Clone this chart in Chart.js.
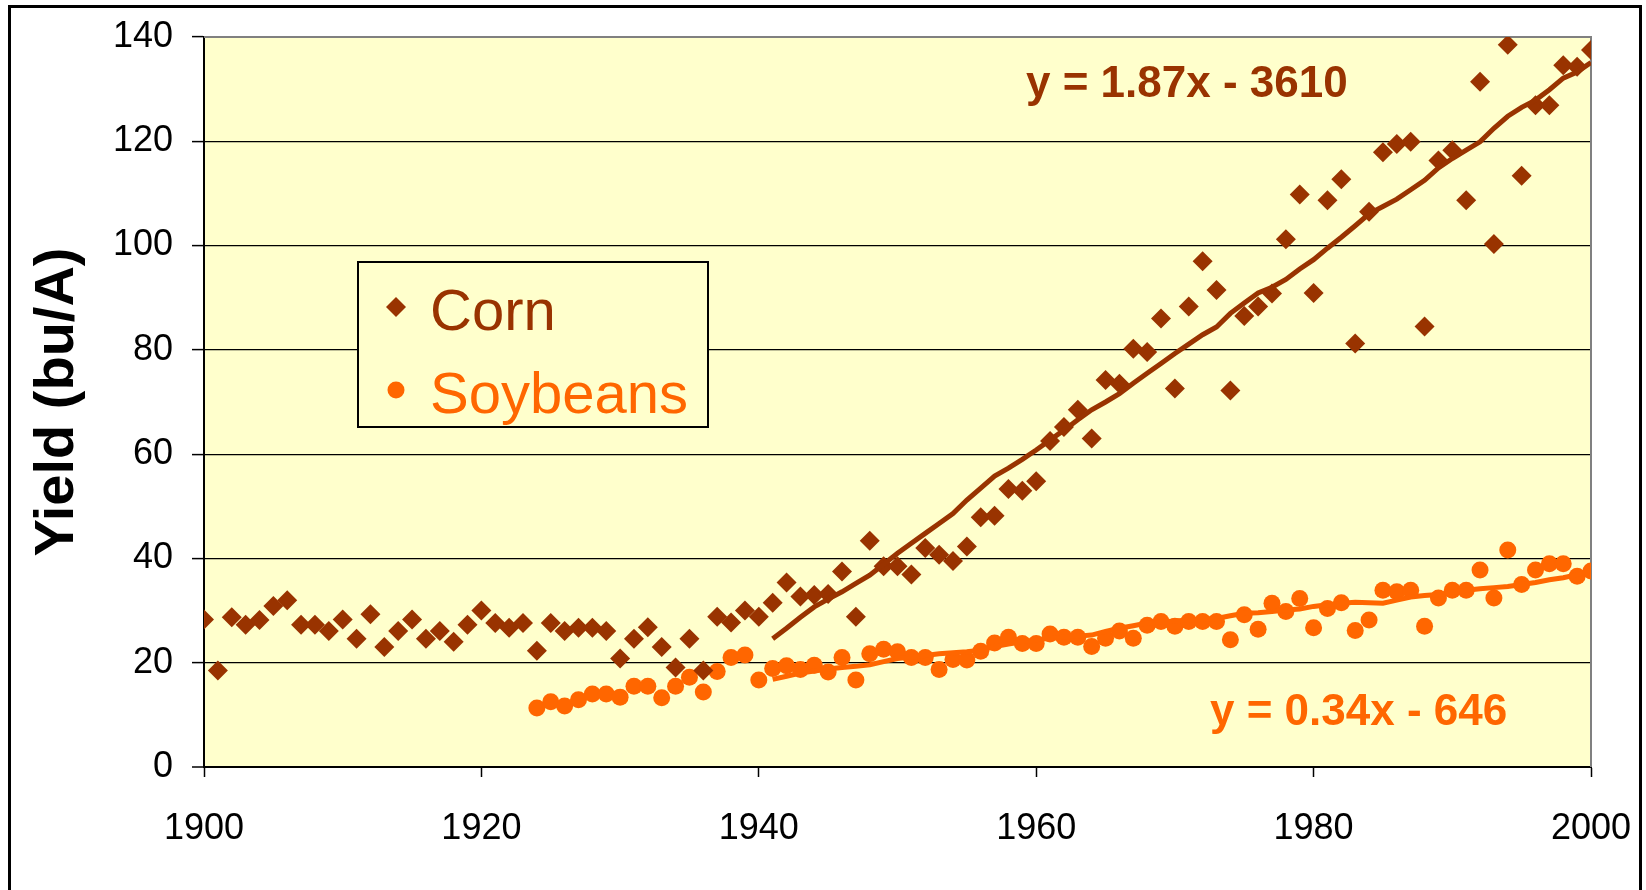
<!DOCTYPE html>
<html><head><meta charset="utf-8">
<script src="https://cdn.jsdelivr.net/npm/chart.js@4"></script>
<style>html,body{margin:0;padding:0;background:#fff;} canvas{display:block;}</style>
</head><body>
<canvas id="c" width="1646" height="890"></canvas>
<script>
const FONT = '"Liberation Sans", Arial, sans-serif';
const seriesNames = ['Corn', 'Soybeans'];
const equations = ['y = 1.87x - 3610', 'y = 0.34x - 646'];
const xTicks = [1900, 1920, 1940, 1960, 1980, 2000];
const yTicks = [0, 20, 40, 60, 80, 100, 120, 140];

const cornStartYear = 1900;
const cornYield = [
  28.3, 18.5, 28.7, 27.3, 28.2, 30.9, 32.0, 27.3, 27.3, 26.1,
  28.3, 24.6, 29.3, 23.0, 26.1, 28.3, 24.6, 26.1, 24.0, 27.3,
  30.0, 27.6, 26.7, 27.6, 22.3, 27.6, 26.1, 26.7, 26.7, 26.1,
  20.8, 24.6, 26.8, 23.0, 19.1, 24.6, 18.5, 28.8, 27.7, 30.0,
  28.8, 31.5, 35.4, 32.7, 33.0, 33.2, 37.5, 28.8, 43.4, 38.5,
  38.5, 36.9, 42.0, 40.7, 39.5, 42.3, 47.9, 48.2, 53.3, 53.0,
  54.8, 62.5, 65.2, 68.5, 63.0, 74.2, 73.5, 80.2, 79.6, 86.0,
  72.6, 88.3, 97.0, 91.5, 72.2, 86.5, 88.3, 90.8, 101.2, 109.8,
  90.9, 108.7, 112.7, 81.2, 106.5, 117.9, 119.5, 119.9, 84.5, 116.3,
  118.3, 108.7, 131.4, 100.3, 138.5, 113.4, 126.9, 126.9, 134.6, 134.3,
  137.5
];

const soyStartYear = 1924;
const soyYield = [
  11.3, 12.5, 11.7, 12.9, 14.0, 14.0,
  13.4, 15.5, 15.5, 13.3, 15.5, 17.2, 14.4, 18.3, 21.0, 21.5,
  16.7, 18.9, 19.4, 18.7, 19.5, 18.2, 21.0, 16.7, 21.7, 22.6,
  22.1, 21.0, 21.0, 18.7, 20.6, 20.5, 22.2, 23.8, 24.9, 23.7,
  23.7, 25.5, 24.9, 24.9, 23.1, 24.7, 26.1, 24.7, 27.2, 27.9,
  27.0, 27.9, 27.9, 27.9, 24.4, 29.2, 26.4, 31.4, 29.8, 32.3,
  26.7, 30.4, 31.5, 26.2, 28.2, 33.9, 33.6, 33.9, 27.0, 32.4,
  33.9, 33.9, 37.8, 32.4, 41.6, 35.0, 37.8, 39.0, 39.0, 36.6,
  37.6
];

const trendStartYear = 1941;
const cornTrend = [
  24.6, 26.6, 28.7, 30.7, 32.2, 33.6, 35.2, 36.8, 38.9,
  41.0, 42.9, 44.8, 46.7, 48.6, 51.2, 53.5, 55.8, 57.3, 59.0,
  60.8, 62.7, 64.6, 66.6, 68.5, 70.0, 71.6, 73.6, 75.5, 77.4,
  79.3, 81.1, 82.9, 84.4, 87.0, 89.0, 90.9, 92.0, 93.5, 95.5,
  97.3, 99.5, 101.6, 103.8, 106.1, 107.5, 108.9, 110.7, 112.5, 114.9,
  116.7, 118.3, 119.9, 122.5, 124.8, 126.5, 127.9, 129.9, 132.1, 133.3,
  135.1
];
const soyTrend = [
  16.8, 17.4, 18.0, 18.4, 18.8, 19.1, 19.3, 19.6, 20.2,
  20.8, 21.1, 21.4, 21.7, 21.9, 22.1, 22.4, 23.1, 23.6, 24.0,
  24.4, 24.7, 24.9, 25.1, 25.3, 26.0, 26.6, 27.1, 27.6, 27.8,
  28.0, 28.2, 28.4, 28.5, 29.0, 29.5, 29.6, 29.8, 30.1, 30.3,
  30.8, 31.1, 31.4, 31.6, 31.5, 31.4, 32.0, 32.6, 32.9, 33.1,
  33.5, 33.9, 34.2, 34.4, 34.6, 35.0, 35.4, 35.9, 36.3, 36.9,
  37.7
];

const CORN = '#993300', SOY = '#FF6600', PLOT_BG = '#FFFFCC';
const toPts = (start, arr) => arr.map((v, i) => ({x: start + i, y: v}));

const bgPlugin = {
  id: 'bg',
  beforeDraw(chart) {
    const {ctx, chartArea: a} = chart;
    ctx.save();
    ctx.fillStyle = '#fff';
    ctx.fillRect(0, 0, chart.width, chart.height);
    ctx.fillStyle = PLOT_BG;
    ctx.fillRect(a.left, a.top, a.right - a.left, a.bottom - a.top);
    ctx.restore();
  },
  beforeDatasetsDraw(chart) {
    const {ctx, chartArea: a} = chart;
    ctx.save();
    ctx.strokeStyle = '#808080';
    ctx.lineWidth = 2;
    ctx.beginPath();
    ctx.moveTo(a.left, a.top);
    ctx.lineTo(a.right, a.top);
    ctx.lineTo(a.right, a.bottom);
    ctx.stroke();
    ctx.restore();
  },
  afterDraw(chart) {
    const {ctx} = chart;
    ctx.save();
    // legend box
    ctx.fillStyle = PLOT_BG;
    ctx.fillRect(357, 261, 352, 167);
    ctx.strokeStyle = '#000';
    ctx.lineWidth = 2;
    ctx.strokeRect(358, 262, 350, 165);
    ctx.fillStyle = CORN;
    ctx.beginPath();
    ctx.moveTo(386, 307); ctx.lineTo(396, 297); ctx.lineTo(406, 307); ctx.lineTo(396, 317);
    ctx.closePath(); ctx.fill();
    ctx.fillStyle = SOY;
    ctx.beginPath();
    ctx.arc(396, 390, 8.5, 0, Math.PI * 2);
    ctx.fill();
    ctx.font = '58px ' + FONT;
    ctx.textBaseline = 'alphabetic';
    ctx.textAlign = 'left';
    ctx.fillStyle = CORN;
    ctx.fillText(seriesNames[0], 430, 330);
    ctx.fillStyle = SOY;
    ctx.fillText(seriesNames[1], 430, 413);
    // equations
    ctx.font = 'bold 44px ' + FONT;
    ctx.fillStyle = CORN;
    ctx.fillText(equations[0], 1026, 97);
    ctx.fillStyle = SOY;
    ctx.fillText(equations[1], 1210, 725);
    // outer frame
    ctx.strokeStyle = '#000';
    ctx.lineWidth = 3;
    ctx.strokeRect(9.5, 6.5, 1631, 1000);
    ctx.restore();
  }
};

const noPad = s => { s.paddingLeft = 0; s.paddingRight = 0; s.paddingTop = 0; s.paddingBottom = 0; };

new Chart(document.getElementById('c'), {
  type: 'scatter',
  data: {
    datasets: [
      {type: 'line', label: 'Corn trend', data: toPts(trendStartYear, cornTrend), borderColor: CORN,
       borderWidth: 5, pointRadius: 0, showLine: true, fill: false, tension: 0, order: 0},
      {type: 'line', label: 'Soybeans trend', data: toPts(trendStartYear, soyTrend), borderColor: SOY,
       borderWidth: 5, pointRadius: 0, showLine: true, fill: false, tension: 0, order: 0},
      {label: seriesNames[0], data: toPts(cornStartYear, cornYield), pointStyle: 'rectRot', pointRadius: 10,
       backgroundColor: CORN, borderColor: CORN, borderWidth: 0, order: 1},
      {label: seriesNames[1], data: toPts(soyStartYear, soyYield), pointStyle: 'circle', pointRadius: 8.5,
       backgroundColor: SOY, borderColor: SOY, borderWidth: 0, order: 1}
    ]
  },
  options: {
    responsive: false,
    animation: false,
    layout: {padding: {top: 37, right: 55, left: 0, bottom: 0}},
    elements: {line: {borderWidth: 5}},
    plugins: {legend: {display: false}, tooltip: {enabled: false}},
    scales: {
      x: {
        type: 'linear', min: 1900, max: 2000,
        afterBuildTicks: s => { s.ticks = xTicks.map(v => ({value: v})); },
        afterFit: s => { s.height = 123; noPad(s); },
        ticks: {color: '#000', font: {family: FONT, size: 36}, padding: 30, maxRotation: 0,
                callback: v => String(v)},
        grid: {drawOnChartArea: false, drawTicks: true, tickLength: 10, tickColor: '#000', tickWidth: 1.5},
        border: {color: '#000', width: 2}
      },
      y: {
        min: 0, max: 140,
        afterBuildTicks: s => { s.ticks = yTicks.map(v => ({value: v})); },
        afterFit: s => { s.width = 204; noPad(s); },
        ticks: {color: '#000', font: {family: FONT, size: 36}, padding: 19},
        grid: {
          color: c => (c.tick && c.tick.value === 140) ? '#808080' : '#000',
          lineWidth: c => (c.tick && c.tick.value === 0) ? 2 : 1.2,
          drawTicks: true, tickLength: 12, tickColor: '#000', tickWidth: 1.5
        },
        border: {color: '#000', width: 2},
        title: {display: true, text: 'Yield (bu/A)', color: '#000',
                font: {family: FONT, size: 56, weight: 'bold'}, padding: {top: 24, bottom: 0}}
      }
    }
  },
  plugins: [bgPlugin]
});
</script>
</body></html>
